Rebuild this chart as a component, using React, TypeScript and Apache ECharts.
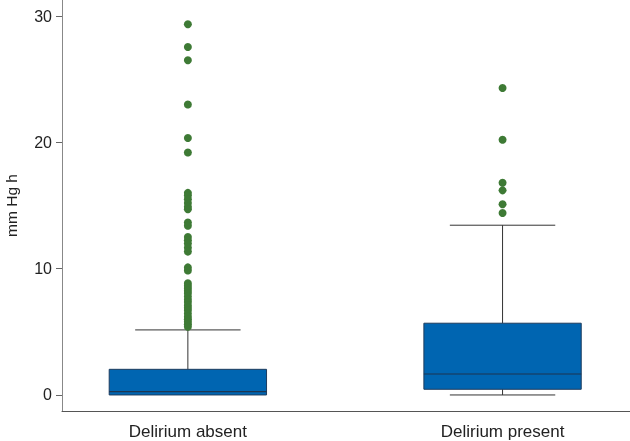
import React, { useEffect, useRef } from "react";
import * as echarts from "echarts";

// Categories and their x positions on the value axis
const categories = ["Delirium absent", "Delirium present"];
const positions = [1, 2];

// Box statistics: [min, q1, median, q3, max]
const absentBox = [0, 0, 0.26, 2.03, 5.15];
const presentBox = [0, 0.45, 1.66, 5.68, 13.44];

// Outliers
const absentOutliers = [
  29.35, 27.55, 26.5, 23.0, 20.35, 19.2,
  16.0, 15.8, 15.5, 15.2, 14.9, 14.7,
  13.65, 13.4,
  12.5, 12.25, 12.0, 11.65, 11.35,
  10.1, 9.85,
  8.85, 8.65, 8.45, 8.25, 8.05, 7.8, 7.55, 7.35, 7.1, 6.9, 6.7, 6.45, 6.2, 6.0, 5.8, 5.6, 5.4,
];
const presentOutliers = [24.3, 20.2, 16.8, 16.2, 15.1, 14.4];

// Y axis ticks
const yTicks = [0, 10, 20, 30];

const FONT = "Liberation Sans, Arial, Helvetica, sans-serif";

export default function App() {
  const ref = useRef<HTMLDivElement>(null);

  useEffect(() => {
    document.body.style.margin = "0";
    if (!ref.current) return;
    const chart = echarts.init(ref.current, undefined, { renderer: "svg" });

    const boxData = [
      [positions[0], ...absentBox],
      [positions[1], ...presentBox],
    ];
    const outlierData = [
      ...absentOutliers.map((v) => [positions[0], v]),
      ...presentOutliers.map((v) => [positions[1], v]),
    ];

    const boxWidthUnits = 0.5;
    const capWidthUnits = 0.335;

    const renderItem = (params: any, api: any) => {
      const x = api.value(0);
      const vMin = api.value(1);
      const q1 = api.value(2);
      const med = api.value(3);
      const q3 = api.value(4);
      const vMax = api.value(5);
      const bw = api.size([boxWidthUnits, 0])[0];
      const cw = api.size([capWidthUnits, 0])[0];
      const pMin = api.coord([x, vMin]);
      const pQ1 = api.coord([x, q1]);
      const pMed = api.coord([x, med]);
      const pQ3 = api.coord([x, q3]);
      const pMax = api.coord([x, vMax]);
      const cx = pMed[0];
      const lineStyle = { stroke: "#333333", lineWidth: 1 };
      const children: any[] = [];
      if (pMin[1] - pQ1[1] > 0.5) {
        children.push({ type: "line", shape: { x1: cx, y1: pQ1[1], x2: cx, y2: pMin[1] }, style: lineStyle });
        children.push({ type: "line", shape: { x1: cx - cw / 2, y1: pMin[1], x2: cx + cw / 2, y2: pMin[1] }, style: lineStyle });
      }
      children.push({ type: "line", shape: { x1: cx, y1: pQ3[1], x2: cx, y2: pMax[1] }, style: lineStyle });
      children.push({ type: "line", shape: { x1: cx - cw / 2, y1: pMax[1], x2: cx + cw / 2, y2: pMax[1] }, style: lineStyle });
      children.push({
        type: "rect",
        shape: { x: cx - bw / 2, y: pQ3[1], width: bw, height: pQ1[1] - pQ3[1] },
        style: { fill: "#0065b1", stroke: "#1d3c5e", lineWidth: 1 },
      });
      children.push({
        type: "line",
        shape: { x1: cx - bw / 2, y1: pMed[1], x2: cx + bw / 2, y2: pMed[1] },
        style: { stroke: "#1d3550", lineWidth: 1.2 },
      });
      return { type: "group", children };
    };

    chart.setOption({
      animation: false,
      grid: { left: 62, right: 0, top: 0, bottom: 30, containLabel: false, outerBoundsMode: "none" },
      xAxis: {
        type: "value",
        min: 0.6,
        max: 2.405,
        splitLine: { show: false },
        axisLine: { show: true, onZero: false, lineStyle: { color: "#555555", width: 1 } },
        axisTick: { show: false },
        axisLabel: {
          customValues: positions,
          formatter: (v: number) => categories[positions.indexOf(Math.round(v))] ?? "",
          color: "#222222",
          fontSize: 17,
          fontFamily: FONT,
          margin: 12,
        },
      },
      yAxis: {
        type: "value",
        min: -1.27,
        max: 31.27,
        name: "mm Hg h",
        nameLocation: "middle",
        nameRotate: 90,
        nameGap: 43,
        nameTextStyle: { color: "#222222", fontSize: 15.5, fontFamily: FONT },
        splitLine: { show: false },
        axisLine: { show: true, onZero: false, lineStyle: { color: "#888888", width: 1 } },
        axisTick: { show: true, customValues: yTicks, length: 6, lineStyle: { color: "#666666" } },
        axisLabel: {
          customValues: yTicks,
          color: "#222222",
          fontSize: 16,
          fontFamily: FONT,
          margin: 10,
        },
      },
      series: [
        {
          type: "custom",
          renderItem,
          data: boxData,
          encode: { x: 0, y: [1, 2, 3, 4, 5] },
          z: 2,
        },
        {
          type: "scatter",
          data: outlierData,
          symbol: "circle",
          symbolSize: 8,
          itemStyle: { color: "#3e7a35", opacity: 1 },
          z: 3,
        },
      ],
    });

    return () => chart.dispose();
  }, []);

  return <div ref={ref} style={{ position: "fixed", left: 0, top: 0, width: 630, height: 441 }} />;
}
